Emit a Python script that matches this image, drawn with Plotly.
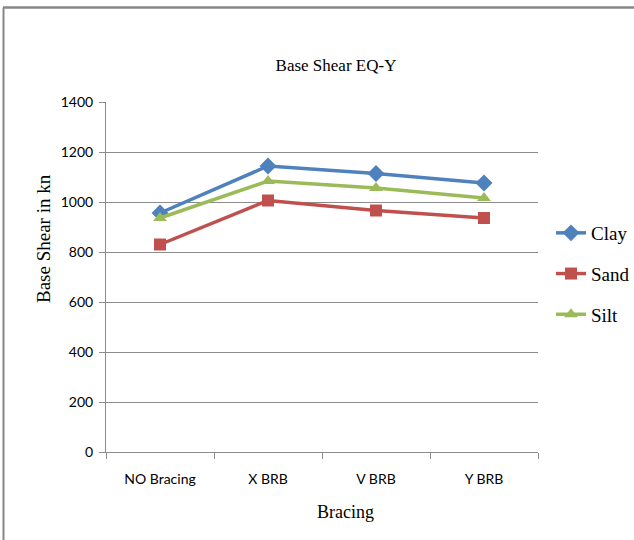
import plotly.graph_objects as go

# Bracing configurations and base shear (kN) for each soil type
categories = ["NO Bracing", "X BRB", "V BRB", "Y BRB"]
clay = [956, 1144, 1114, 1076]
sand = [830, 1006, 966, 936]
silt = [936, 1084, 1056, 1016]
y_ticks = [0, 200, 400, 600, 800, 1000, 1200, 1400]

W, H = 634, 540
L, R, T, B = 106, 96, 102, 88
pw, ph = W - L - R, H - T - B

def px(x):
    return (x - L) / pw

def py(y):
    return (H - B - y) / ph

series = [
    ("Clay", clay, "#4F81BD", "diamond", 13),
    ("Sand", sand, "#C0504D", "square", 12),
    ("Silt", silt, "#9BBB59", "triangle-up", 12),
]

fig = go.Figure()
for name, vals, color, symbol, size in series:
    fig.add_trace(go.Scatter(
        x=categories, y=vals, name=name, mode="lines+markers",
        line=dict(color=color, width=3.5),
        marker=dict(symbol=symbol, size=size, color=color),
        legendgroup=name,
    ))

grid = "#8c8c8c"
serif = "Liberation Serif"
sans = "Lato"
fig.update_layout(
    width=W, height=H,
    margin=dict(l=L, r=R, t=T, b=B, autoexpand=False),
    paper_bgcolor="white", plot_bgcolor="white",
    title=dict(text="Base Shear EQ-Y", x=px(336), xref="paper", xanchor="center",
               y=1 - 65 / H, yref="container", yanchor="middle",
               font=dict(family=serif, size=17, color="black")),
    legend=dict(x=px(551), y=py(214), xanchor="left", yanchor="top",
                font=dict(family=serif, size=19, color="black"),
                tracegroupgap=13, itemwidth=30, bgcolor="rgba(0,0,0,0)"),
    showlegend=True,
    shapes=[
        dict(type="line", xref="paper", yref="paper",
             x0=px(3), x1=px(634), y0=py(7.5), y1=py(7.5),
             line=dict(color="#878787", width=2.5)),
        dict(type="line", xref="paper", yref="paper",
             x0=px(3.5), x1=px(3.5), y0=py(7.5), y1=py(540),
             line=dict(color="#878787", width=2)),
    ],
    annotations=[
        dict(text="Base Shear in kn", textangle=-90, showarrow=False,
             xref="paper", yref="paper", x=px(43), y=py(238),
             xanchor="center", yanchor="middle",
             font=dict(family=serif, size=19, color="black")),
        dict(text="Bracing", showarrow=False,
             xref="paper", yref="paper", x=px(345), y=py(512),
             xanchor="center", yanchor="middle",
             font=dict(family=serif, size=18, color="black")),
    ],
)

fig.update_xaxes(
    type="category", range=[-0.5, 3.5],
    showline=True, linecolor=grid, linewidth=1,
    ticks="outside", tickson="boundaries", ticklen=6, tickcolor=grid,
    showgrid=False, ticklabelstandoff=14,
    tickfont=dict(family=sans, size=14, color="black"),
)
fig.update_yaxes(
    range=[0, 1400], tickvals=y_ticks,
    showline=True, linecolor=grid, linewidth=1,
    ticks="outside", ticklen=6, tickcolor=grid,
    showgrid=True, gridcolor=grid, gridwidth=1, zeroline=False,
    ticklabelstandoff=3,
    tickfont=dict(family=sans, size=14, color="black"),
)

fig.write_html("out.html")
